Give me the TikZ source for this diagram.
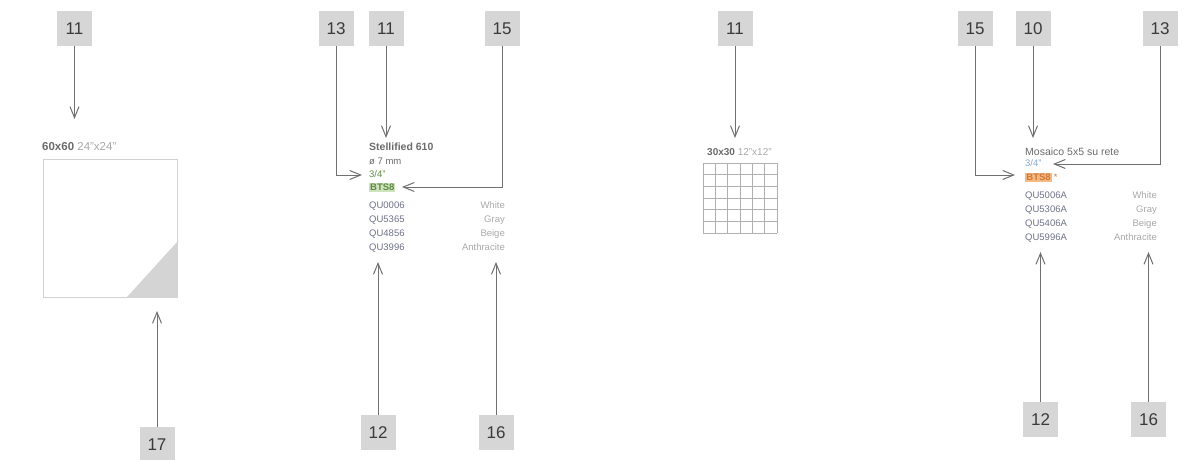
\documentclass[tikz,border=0pt]{standalone}
\usepackage{fontspec}
\setmainfont{Liberation Sans}
\usetikzlibrary{arrows.meta}
\definecolor{lblfill}{HTML}{D6D6D6}
\definecolor{lbltext}{HTML}{3A3A3A}
\definecolor{linecol}{HTML}{707070}
\definecolor{txtdark}{HTML}{6A6A6A}
\definecolor{txtlight}{HTML}{A8A8A8}
\definecolor{codecol}{HTML}{6E7088}
\definecolor{greenhl}{HTML}{CFE3BE}
\definecolor{greentx}{HTML}{5E8A45}
\definecolor{orangehl}{HTML}{F6B982}
\definecolor{orangetx}{HTML}{D07A3A}
\definecolor{bluetx}{HTML}{86A6CF}
\definecolor{sqborder}{HTML}{D2D2D2}
\definecolor{trifill}{HTML}{D4D4D4}
\definecolor{gridcol}{HTML}{B0B0B0}
\tikzset{
  lbl/.style={fill=lblfill,text=lbltext,minimum width=35pt,minimum height=35pt,inner sep=0pt,font=\fontsize{17}{17}\selectfont},
  ptr/.style={draw=linecol,line width=1pt,-{Straight Barb[length=11pt,width=9pt]}},
  small/.style={inner sep=0pt,font=\fontsize{9.5}{9.5}\selectfont,text=txtdark},
  code/.style={small,text=codecol,anchor=base west},
  colour/.style={small,text=txtlight,anchor=base east},
}
\begin{document}
\begin{tikzpicture}[x=1pt,y=-1pt]
\useasboundingbox (0,0) rectangle (1189,460);
% ---------- panel 1 ----------
\node[lbl] (p1a) at (74.5,28.5) {11};
\node[lbl] (p1b) at (157,444.5) {17};
\coordinate (p1at) at (74.5,119);
\coordinate (p1bt) at (157,311);
\node[small,anchor=base west,font=\fontsize{11.5}{11.5}\selectfont] (p1title) at (42,150.5) {\textbf{60x60} \textcolor{txtlight}{24"x24"}};
\draw[sqborder,line width=1pt] (43,159) rectangle (177,297);
\fill[trifill] (127,297) -- (177,297) -- (177,242) -- cycle;
\draw[ptr] (p1a.south) -- (p1at);
\draw[ptr] (p1b.north) -- (p1bt);
% ---------- panel 2 ----------
\node[lbl] (p2a) at (336,28.5) {13};
\node[lbl] (p2b) at (386,28.5) {11};
\node[lbl] (p2c) at (502,28.5) {15};
\node[lbl] (p2d) at (378,432.5) {12};
\node[lbl] (p2e) at (496,432.5) {16};
\node[small,anchor=base west,text=txtdark,font=\fontsize{10.5}{10.5}\selectfont] (p2t1) at (369,150.5) {\textbf{Stellified 610}};
\node[small,anchor=base west] (p2t2) at (369,164) {ø 7 mm};
\node[small,anchor=base west,text=greentx] (p2t3) at (369,177.5) {3/4"};
\node[small,anchor=base west,fill=greenhl,text=greentx,inner sep=1pt] (p2t4) at (369,190.5) {\textbf{BTS8}};
\node[code] (p2c1) at (369,208.5) {QU0006};
\node[code] (p2c2) at (369,222.5) {QU5365};
\node[code] (p2c3) at (369,236.5) {QU4856};
\node[code] (p2c4) at (369,250.5) {QU3996};
\node[colour] (p2r1) at (505,208.5) {White};
\node[colour] (p2r2) at (505,222.5) {Gray};
\node[colour] (p2r3) at (505,236.5) {Beige};
\node[colour] (p2r4) at (505,250.5) {Anthracite};
\coordinate (p2at) at (362,175);
\coordinate (p2bt) at (386,138);
\coordinate (p2ct) at (402,187);
\coordinate (p2dt) at (378,262);
\coordinate (p2et) at (496,262);
\draw[ptr] (p2a.south) |- (p2at);
\draw[ptr] (p2b.south) -- (p2bt);
\draw[ptr] (p2c.south) |- (p2ct);
\draw[ptr] (p2d.north) -- (p2dt);
\draw[ptr] (p2e.north) -- (p2et);
% ---------- panel 3 ----------
\node[lbl] (p3a) at (735,28.5) {11};
\coordinate (p3at) at (735,138);
\node[small,anchor=base west,font=\fontsize{10}{10}\selectfont] (p3title) at (707,155.5) {\textbf{30x30} \textcolor{txtlight}{12"x12"}};
\foreach \i in {0,...,6} {
  \draw[gridcol,line width=0.8pt] ({703+\i*12.333},163) -- ({703+\i*12.333},233);
  \draw[gridcol,line width=0.8pt] (703,{163+\i*11.667}) -- (777,{163+\i*11.667});
}
\draw[ptr] (p3a.south) -- (p3at);
% ---------- panel 4 ----------
\node[lbl] (p4a) at (975,28.5) {15};
\node[lbl] (p4b) at (1033,28.5) {10};
\node[lbl] (p4c) at (1160,28.5) {13};
\node[lbl] (p4d) at (1040.5,419.5) {12};
\node[lbl] (p4e) at (1148.5,419.5) {16};
\node[small,anchor=base west,font=\fontsize{10.5}{10.5}\selectfont] (p4t1) at (1025,155.5) {Mosaico 5x5 su rete};
\node[small,anchor=base west,text=bluetx] (p4t2) at (1025,166.5) {3/4"};
\node[small,anchor=base west,fill=orangehl,text=orangetx,inner sep=1.2pt] (p4t3) at (1025,180.5) {\textbf{BTS8}};
\node[small,anchor=base west,text=orangetx] (p4t3s) at (p4t3.base east) {\,*};
\node[code] (p4c1) at (1025,198.5) {QU5006A};
\node[code] (p4c2) at (1025,212.5) {QU5306A};
\node[code] (p4c3) at (1025,226.5) {QU5406A};
\node[code] (p4c4) at (1025,240.5) {QU5996A};
\node[colour] (p4r1) at (1157,198.5) {White};
\node[colour] (p4r2) at (1157,212.5) {Gray};
\node[colour] (p4r3) at (1157,226.5) {Beige};
\node[colour] (p4r4) at (1157,240.5) {Anthracite};
\coordinate (p4at) at (1015,175);
\coordinate (p4bt) at (1033,138);
\coordinate (p4ct) at (1053,164);
\coordinate (p4dt) at (1040.5,252);
\coordinate (p4et) at (1148.5,252);
\draw[ptr] (p4a.south) |- (p4at);
\draw[ptr] (p4b.south) -- (p4bt);
\draw[ptr] (p4c.south) |- (p4ct);
\draw[ptr] (p4d.north) -- (p4dt);
\draw[ptr] (p4e.north) -- (p4et);
\end{tikzpicture}
\end{document}
